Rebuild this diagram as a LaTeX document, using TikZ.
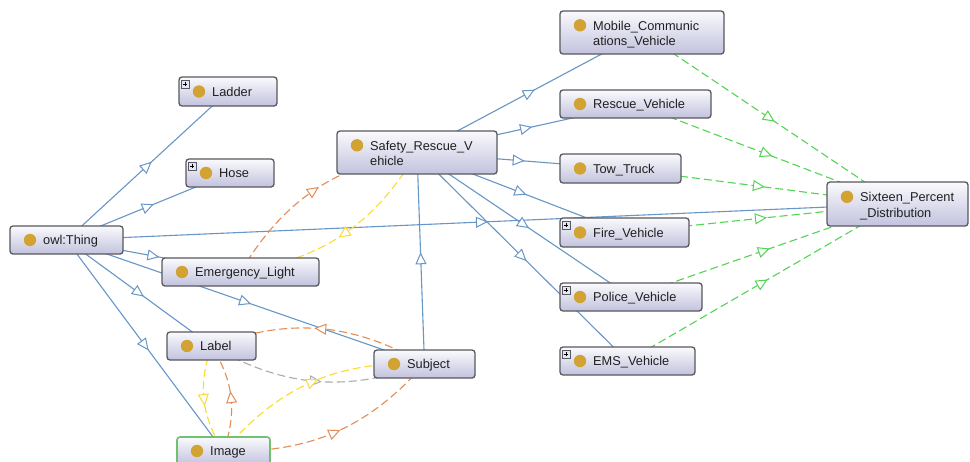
\documentclass[tikz,border=0pt]{standalone}
\usepackage{fontspec}
\setmainfont{Liberation Sans}
\usetikzlibrary{arrows.meta,decorations.markings,backgrounds}

\definecolor{edgeblue}{RGB}{104,150,198}
\definecolor{edgegreen}{RGB}{84,212,84}
\definecolor{edgeorange}{RGB}{228,140,86}
\definecolor{edgeyellow}{RGB}{250,220,50}
\definecolor{edgegray}{RGB}{172,172,172}
\definecolor{boxtop}{RGB}{250,250,253}
\definecolor{boxbot}{RGB}{194,194,222}
\definecolor{boxline}{RGB}{88,88,94}
\definecolor{imgline}{RGB}{96,222,96}
\definecolor{dotc}{RGB}{210,162,50}
\definecolor{txtc}{RGB}{32,32,32}
\definecolor{plusfill}{RGB}{226,232,242}

\tikzset{
  clsbox/.style={draw=boxline, line width=1.3pt, rounded corners=3pt,
    top color=boxtop, bottom color=boxbot, inner sep=0pt, outer sep=0pt, anchor=north west},
  lbl/.style={font=\fontsize{12.8pt}{15.5pt}\selectfont, text=txtc, inner sep=0pt, anchor=base west},
  midarr/.style={postaction={decorate}, decoration={markings,
    mark=at position 0.5 with {\arrow[xshift=6pt]{Triangle[length=12pt,width=11pt,fill=white,line width=1pt]}}}},
  subc/.style={draw=edgeblue, line width=1.1pt, midarr},
  eqv/.style={draw=edgegreen, line width=1.1pt, dash pattern=on 8pt off 4pt, midarr},
  relo/.style={draw=edgeorange, line width=1.1pt, dash pattern=on 8pt off 4pt, midarr},
  rely/.style={draw=edgeyellow, line width=1.1pt, dash pattern=on 8pt off 4pt, midarr},
  relg/.style={draw=edgegray, line width=1.1pt, dash pattern=on 8pt off 4pt, midarr}
}

% name, x1, y1, x2, y2, text
\newcommand\mkone[6]{%
  \node[clsbox, minimum width=#4-#2, minimum height=#5-#3] (#1) at (#2,#3) {};
  \fill[dotc] ({#2+20},{(#3+#5)/2}) circle (6.2pt);
  \node[lbl] (#1-t) at ({#2+33},{(#3+#5)/2+4.8}) {#6};
}
% name, x1, y1, x2, y2, line1, line2
\newcommand\mktwo[7]{%
  \node[clsbox, minimum width=#4-#2, minimum height=#5-#3] (#1) at (#2,#3) {};
  \fill[dotc] ({#2+20},{(#3+#5)/2-7.2}) circle (6.2pt);
  \node[lbl] (#1-t1) at ({#2+33},{(#3+#5)/2-2.4}) {#6};
  \node[lbl] (#1-t2) at ({#2+33},{(#3+#5)/2+13.2}) {#7};
}
% expand box at top-left: x1, y1
\newcommand\mkplus[2]{%
  \draw[fill=plusfill, draw=boxline, line width=0.6pt] ({#1+2},{#2+3}) rectangle ++(8,8);
  \draw[black, line width=0.8pt] ({#1+3.6},{#2+7}) -- ++(4.8,0) ({#1+6},{#2+4.6}) -- ++(0,4.8);
}

\begin{document}
\begin{tikzpicture}[x=1pt,y=-1pt]
\useasboundingbox (0,0) rectangle (970,461);

\mkone{ladder}{179}{77}{277}{106}{Ladder}
\mkplus{179}{77}
\mkone{hose}{186}{159}{274}{187}{Hose}
\mkplus{186}{159}
\mkone{thing}{10}{226}{123}{254}{owl:Thing}
\mkone{elight}{162}{258}{319}{286}{Emergency\_Light}
\mkone{label}{167}{332}{256}{360}{Label}
\mkone{image}{177}{437}{270}{465}{Image}
\draw[imgline, line width=1.3pt, rounded corners=3pt] (image.north west) rectangle (image.south east);
\mktwo{safety}{337}{131}{497}{174}{Safety\_Rescue\_V}{ehicle}
\mkone{subject}{374}{350}{475}{378}{Subject}
\mktwo{mobile}{560}{11}{724}{54}{Mobile\_Communic}{ations\_Vehicle}
\mkone{rescue}{560}{90}{711}{118}{Rescue\_Vehicle}
\mkone{tow}{560}{154}{681}{183}{Tow\_Truck}
\mkone{fire}{560}{218}{689}{247}{Fire\_Vehicle}
\mkplus{560}{218}
\mkone{police}{560}{283}{702}{311}{Police\_Vehicle}
\mkplus{560}{283}
\mkone{ems}{560}{347}{695}{375}{EMS\_Vehicle}
\mkplus{560}{347}
\mktwo{sixteen}{827}{182}{968}{226}{Sixteen\_Percent}{\_Distribution}

\begin{pgfonlayer}{background}
\fill[white] (0,0) rectangle (970,461);
% subclass edges
\draw[subc] (thing.center) -- (ladder.center);
\draw[subc] (thing.center) -- (hose.center);
\draw[subc] (thing.center) -- (elight.center);
\draw[subc] (thing.center) -- (label.center);
\draw[subc] (thing.center) -- (image.center);
\draw[subc] (thing.center) -- (subject.center);
\draw[subc] (thing.center) -- (sixteen.center);
\draw[subc] (subject.center) -- (safety.center);
\draw[subc] (safety.center) -- (mobile.center);
\draw[subc] (safety.center) -- (rescue.center);
\draw[subc] (safety.center) -- (tow.center);
\draw[subc] (safety.center) -- (fire.center);
\draw[subc] (safety.center) -- (police.center);
\draw[subc] (safety.center) -- (ems.center);
% equivalence edges
\draw[eqv] (mobile.center) -- (sixteen.center);
\draw[eqv] (rescue.center) -- (sixteen.center);
\draw[eqv] (tow.center) -- (sixteen.center);
\draw[eqv] (fire.center) -- (sixteen.center);
\draw[eqv] (police.center) -- (sixteen.center);
\draw[eqv] (ems.center) -- (sixteen.center);
% object properties
\draw[relo] (elight.center) to[bend left=25] (safety.center);
\draw[rely] (safety.center) to[bend left=25] (elight.center);
\draw[relg] (label.center) to[bend right=25] (subject.center);
\draw[relo] (subject.center) to[bend right=25] (label.center);
\draw[rely] (label.center) to[bend right=26] (image.center);
\draw[relo] (image.center) to[bend right=26] (label.center);
\draw[rely] (image.center) to[bend left=26] (subject.center);
\draw[relo] (image.center) to[bend right=25] (subject.center);
\end{pgfonlayer}
\end{tikzpicture}
\end{document}
